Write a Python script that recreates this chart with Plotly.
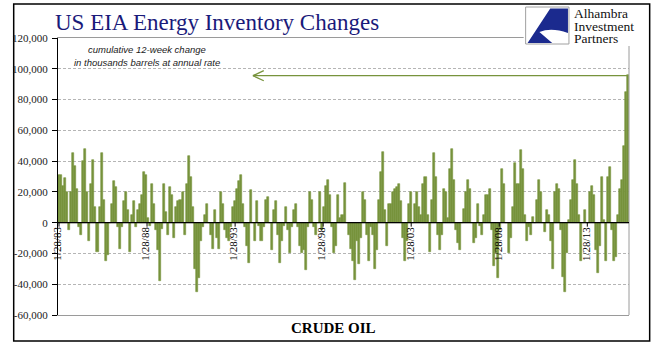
import pandas as pd
import plotly.graph_objects as go

# cumulative 12-week change, thousand barrels at annual rate (sampled every 6 weeks)
values_k = [
    31, 31, 24, 29, 20, -5, 20, 45, 37, 22, -3, -8, 40, 48, 20, -12, 25, 41, 10, -19,
    10, 45, 15, -25, -21, 0, 12, 27, 23, -3, -17, -3, 14, 20, 8, -19, 5, 14, -3, 8,
    12, 18, 33, 31, 3, -2, 25, 12, -5, -18, -38, -4, 25, 7, -8, 23, 18,
    -10, 10, 14, 15, 20, -8, 25, 43, 30, 10, -30, -45, -36, -12, -3, 5, 12, 0, -8,
    -17, 8, -10, -17, 20, 12, -5, -10, -12, -3, 10, 14, 22, 27, 31, 12, -3, -15,
    -26, 21, 0, -12, 14, -2, -12, -3, 15, 17, 0, -18, 8, 14, -8, -26, -12, -2, 10,
    -5, -20, -3, 8, 12, -3, -15, -20, -18, -31, -3, 20, 15, -3, -8, 0, 20, -5, 10,
    24, 28, 18, -3, -20, -15, 18, 3, 5, 26, 0, -8, -17, -25, -37, -12, -27, -10,
    20, 15, -8, -25, -3, -8, -30, -18, 15, 33, 46, 8, -15, 12, 12, 20, 22, 23, 25,
    14, -10, -25, -12, 12, 20, 0, 12, 20, 10, 5, 25, 30, 5, -19, 15, 45, 30, -8,
    -18, -8, 22, 20, 3, 35, 48, 28, -5, -13, -18, 0, 9, 20, 28, 22, 0, -13, -10,
    12, -2, -8, 5, 18, 18, 22, -5, -28, -20, -36, -5, 35, 25, 0, -20, -10, 10,
    39, 25, 25, 47, 35, 5, -12, -3, -8, 4, 0, 15, 28, 20, 0, -6, 8, 5, -12, -30,
    20, 25, 22, -5, -35, -45, -20, 2, 15, 28, 41, 25, 5, -25, 0, 8, 0, 20, 24, 18,
    -18, -33, -15, 30, 2, -25, 30, 36, -5, -25, -22, 5, 22, 28, 50, 85, 96,
]
values = [v * 1000 for v in values_k]
dates = pd.date_range("1983-01-28", periods=len(values), freq="42D")

tick_dates = ["1983-01-28", "1988-01-28", "1993-01-28", "1998-01-28",
              "2003-01-28", "2008-01-28", "2013-01-28"]
tick_labels = ["1/28/83", "1/28/88", "1/28/93", "1/28/98",
               "1/28/03", "1/28/08", "1/28/13"]
y_ticks = [-60000, -40000, -20000, 0, 20000, 40000, 60000, 80000, 100000, 120000]
y_labels = ["-60,000", "-40,000", "-20,000", "0", "20,000", "40,000",
            "60,000", "80,000", "100,000", "120,000"]

BAR = "#77933C"
SERIF = "Liberation Serif"

# plot area in pixels
L, R, T, B = 49, 629, 38, 315


def px(x):
    return (x - L) / (R - L)


def py(y):
    return (B - y) / (B - T)


fig = go.Figure()
fig.add_trace(go.Bar(x=dates, y=values,
                     marker=dict(color=BAR, line=dict(width=0.6, color=BAR)),
                     hoverinfo="skip"))

shapes = []
# outer border
shapes.append(dict(type="rect", xref="paper", yref="paper", x0=px(4), x1=px(650),
                   y0=py(341), y1=py(4), line=dict(color="black", width=1.5),
                   fillcolor="rgba(0,0,0,0)", layer="below"))
# right plot border
shapes.append(dict(type="line", xref="paper", yref="paper", x0=1, x1=1, y0=0, y1=1,
                   line=dict(color="#9a9a9a", width=1)))
# zero line
shapes.append(dict(type="line", xref="paper", yref="y", x0=0, x1=1, y0=0, y1=0,
                   line=dict(color="black", width=1.3)))
# ticks on zero line
for d in tick_dates:
    shapes.append(dict(type="line", xref="x", yref="y", x0=d, x1=d, y0=0, y1=-2600,
                       line=dict(color="black", width=1)))
# arrow
ay = 95500
shapes.append(dict(type="line", xref="paper", yref="y", x0=px(247), x1=px(628),
                   y0=ay, y1=ay, line=dict(color=BAR, width=1.3)))
shapes.append(dict(type="line", xref="paper", yref="y", x0=px(247), x1=px(258),
                   y0=ay, y1=ay + 3300, line=dict(color=BAR, width=1.3)))
shapes.append(dict(type="line", xref="paper", yref="y", x0=px(247), x1=px(258),
                   y0=ay, y1=ay - 3300, line=dict(color=BAR, width=1.3)))
# logo area background
shapes.append(dict(type="rect", xref="paper", yref="paper", x0=px(522), x1=px(646),
                   y0=py(46), y1=py(5), line=dict(width=0), fillcolor="white"))
shapes.append(dict(type="rect", xref="paper", yref="paper", x0=px(524), x1=px(568),
                   y0=py(44), y1=py(7), line=dict(color="#a0a0a0", width=1),
                   fillcolor="white"))


def path(points_cmds):
    out = []
    for cmd in points_cmds:
        if isinstance(cmd, str):
            out.append(cmd)
        else:
            out.append(f"{px(cmd[0]):.5f},{py(cmd[1]):.5f}")
    return " ".join(out)


logo_path = path(["M", (549, 8.5), "L", (567, 8.5), "L", (567, 33), "Q", (550, 27),
                  (538, 32), "Q", (545, 38), (551, 43), "L", (526, 43), "Z"])
shapes.append(dict(type="path", xref="paper", yref="paper", path=logo_path,
                   fillcolor="#1B2A8E", line=dict(width=0)))

annotations = [
    dict(text="US EIA Energy Inventory Changes", xref="paper", yref="paper",
         x=px(44), y=py(22), xanchor="left", yanchor="middle", showarrow=False,
         font=dict(family=SERIF, size=23, color="#1a1a7a")),
    dict(text="cumulative 12-week change", xref="paper", yref="paper",
         x=px(139), y=py(50), xanchor="center", yanchor="middle", showarrow=False,
         font=dict(family="Liberation Sans", size=9.5, color="#222", style="italic")),
    dict(text="in thousands barrels at annual rate", xref="paper", yref="paper",
         x=px(139), y=py(63), xanchor="center", yanchor="middle", showarrow=False,
         font=dict(family="Liberation Sans", size=9.5, color="#222", style="italic")),
    dict(text="<b>CRUDE OIL</b>", xref="paper", yref="paper", x=px(329), y=py(328),
         xanchor="center", yanchor="middle", showarrow=False,
         font=dict(family=SERIF, size=15, color="black")),
]
for i, t in enumerate(["Alhambra", "Investment", "Partners"]):
    annotations.append(dict(text=t, xref="paper", yref="paper", x=px(572),
                            y=py(13.5 + 12.5 * i), xanchor="left", yanchor="middle",
                            showarrow=False, borderpad=0,
                            font=dict(family=SERIF, size=13.5, color="#111")))
for d, lab in zip(tick_dates, tick_labels):
    annotations.append(dict(text=lab, x=d, y=0, xref="x", yref="y", textangle=-90,
                            xanchor="center", yanchor="top", yshift=-2, xshift=-2,
                            showarrow=False,
                            font=dict(family=SERIF, size=11, color="black")))

fig.update_layout(
    width=659, height=361,
    margin=dict(l=L, r=659 - R, t=T, b=361 - B, pad=0),
    paper_bgcolor="white", plot_bgcolor="white",
    showlegend=False, bargap=0,
    shapes=shapes, annotations=annotations,
    xaxis=dict(type="date", range=["1983-01-07", "2015-06-12"], showgrid=False,
               showticklabels=False, ticks="", showline=True, mirror=True,
               linecolor="#9a9a9a", linewidth=1, zeroline=False),
    yaxis=dict(range=[-60000, 120000], tickvals=y_ticks, ticktext=y_labels,
               showgrid=True, gridcolor="#b5b5b5", griddash="3px,2px", gridwidth=1,
               zeroline=False, showline=True, linecolor="black", linewidth=1.3,
               ticks="outside", ticklen=5, tickcolor="black", ticklabelstandoff=2,
               tickfont=dict(family=SERIF, size=11, color="#222")),
)

fig.write_html("out.html", config={"displayModeBar": False},
               post_script="document.body.style.margin='0';"
                           "document.body.style.overflow='hidden';")
